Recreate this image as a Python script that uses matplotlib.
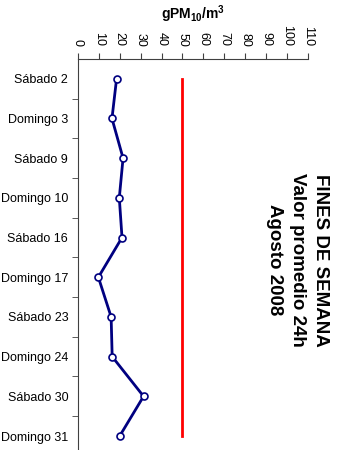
import matplotlib
matplotlib.use('Agg')
import matplotlib.pyplot as plt
import numpy as np

plt.rcParams['font.family'] = 'Liberation Sans'
plt.rcParams['mathtext.fontset'] = 'custom'
plt.rcParams['mathtext.rm'] = 'Liberation Sans'
plt.rcParams['mathtext.bf'] = 'Liberation Sans:bold'

dias = ['Sábado 2', 'Domingo 3', 'Sábado 9', 'Domingo 10', 'Sábado 16',
        'Domingo 17', 'Sábado 23', 'Domingo 24', 'Sábado 30', 'Domingo 31']
pm10 = [18.5, 16.3, 21.6, 19.8, 21.1, 9.8, 15.9, 16.4, 31.4, 20.0]
norma = [50] * len(dias)
xticks = list(range(0, 111, 10))

fig = plt.figure(figsize=(3.4, 4.5), dpi=100)
ax = fig.add_axes([0.229, -0.013, 0.677, 0.882])

pos = np.arange(len(dias))
ax.plot(norma, pos, color='#ff0000', lw=2)
ax.plot(pm10, pos, color='#000080', lw=2, marker='o', markersize=5,
        markerfacecolor='white', markeredgecolor='#000080', markeredgewidth=1.2)

ax.set_xlim(0, 110)
ax.set_ylim(len(dias) - 0.5, -0.5)

ax.xaxis.tick_top()
ax.xaxis.set_label_position('top')
ax.set_xticks(xticks)
ax.set_xticklabels([str(t) for t in xticks], rotation=270, fontsize=9)
ax.tick_params(axis='x', direction='out', length=4, pad=5, color='#404040')
ax.set_xlabel(r'$\mathbf{gPM_{10}/m^3}$', fontsize=10, labelpad=5)

ax.set_yticks(pos)
ax.set_yticklabels(dias, fontsize=9)
ax.set_yticks(pos[:-1] + 0.5, minor=True)
ax.tick_params(axis='y', which='major', length=0, pad=7)
ax.tick_params(axis='y', which='minor', direction='out', length=4, color='#404040')

for s in ['right', 'bottom']:
    ax.spines[s].set_visible(False)
for s in ['left', 'top']:
    ax.spines[s].set_color('#404040')

fig.text(0.874, 0.422, 'FINES DE SEMANA\nValor promedio 24h\nAgosto 2008',
         rotation=270, ha='center', va='center', fontsize=13.5,
         fontweight='bold', multialignment='center', linespacing=1.45)

fig.savefig('out.png', dpi=100)
